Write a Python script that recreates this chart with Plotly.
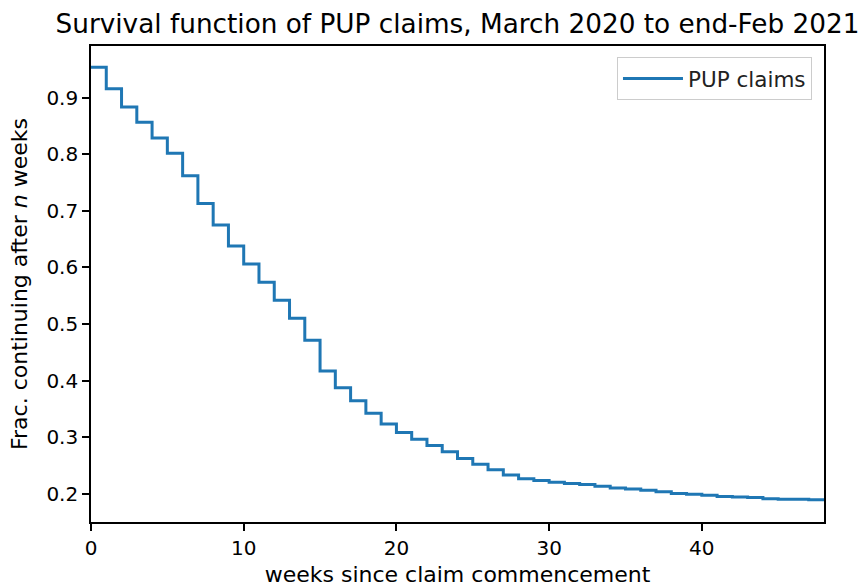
import plotly.graph_objects as go

weeks = list(range(0, 49))
survival = [0.954, 0.916, 0.884, 0.857, 0.829, 0.802, 0.762, 0.713, 0.675, 0.638,
            0.606, 0.574, 0.542, 0.510, 0.471, 0.417, 0.387, 0.364, 0.342, 0.323,
            0.308, 0.296, 0.285, 0.274, 0.262, 0.252, 0.242, 0.233, 0.226, 0.223,
            0.220, 0.218, 0.216, 0.213, 0.210, 0.208, 0.206, 0.203, 0.200, 0.199,
            0.197, 0.195, 0.194, 0.193, 0.191, 0.190, 0.190, 0.189, 0.188]
x_ticks = [0, 10, 20, 30, 40]
y_ticks = [0.2, 0.3, 0.4, 0.5, 0.6, 0.7, 0.8, 0.9]
y_tick_labels = ["0.2", "0.3", "0.4", "0.5", "0.6", "0.7", "0.8", "0.9"]

FONT = "DejaVu Sans"

fig = go.Figure()
fig.add_trace(go.Scatter(
    x=weeks, y=survival, mode="lines", line_shape="hv",
    line=dict(color="#1f77b4", width=3), name="PUP claims", showlegend=True,
))

fig.update_layout(
    width=860, height=587,
    margin=dict(l=91, r=36, t=46, b=65, autoexpand=False),
    paper_bgcolor="white", plot_bgcolor="white",
    font=dict(family=FONT, color="black", size=20),
    title=dict(text="Survival function of PUP claims, March 2020 to end-Feb 2021",
               x=0.5, xref="paper", xanchor="center",
               y=1 - 24 / 587, yref="container", yanchor="middle",
               font=dict(family=FONT, size=26.3, color="black")),
    legend=dict(x=0.9836, y=0.977, xanchor="right", yanchor="top",
                bgcolor="white", bordercolor="#cccccc", borderwidth=1,
                itemwidth=60,
                font=dict(family=FONT, size=21.5, color="#222222")),
    showlegend=True,
)

fig.update_xaxes(
    range=[0, 48], tickvals=x_ticks, ticktext=[str(v) for v in x_ticks],
    showgrid=False, zeroline=False, automargin=False,
    showline=True, mirror=True, linecolor="black", linewidth=1.6,
    ticks="outside", ticklen=7, tickwidth=1.6, tickcolor="black",
    tickfont=dict(family=FONT, size=20, color="black"),
    title=dict(text="weeks since claim commencement", standoff=13,
               font=dict(family=FONT, size=22, color="black")),
)
fig.update_yaxes(
    range=[0.1497, 0.9917], tickvals=y_ticks, ticktext=y_tick_labels,
    showgrid=False, zeroline=False, automargin=False,
    showline=True, mirror=True, linecolor="black", linewidth=1.6,
    ticks="outside", ticklen=7, tickwidth=1.6, tickcolor="black",
    tickfont=dict(family=FONT, size=20, color="black"),
    title=dict(text="Frac. continuing after <i>n</i> weeks", standoff=13,
               font=dict(family=FONT, size=22, color="black")),
)

fig.write_html("out.html")
